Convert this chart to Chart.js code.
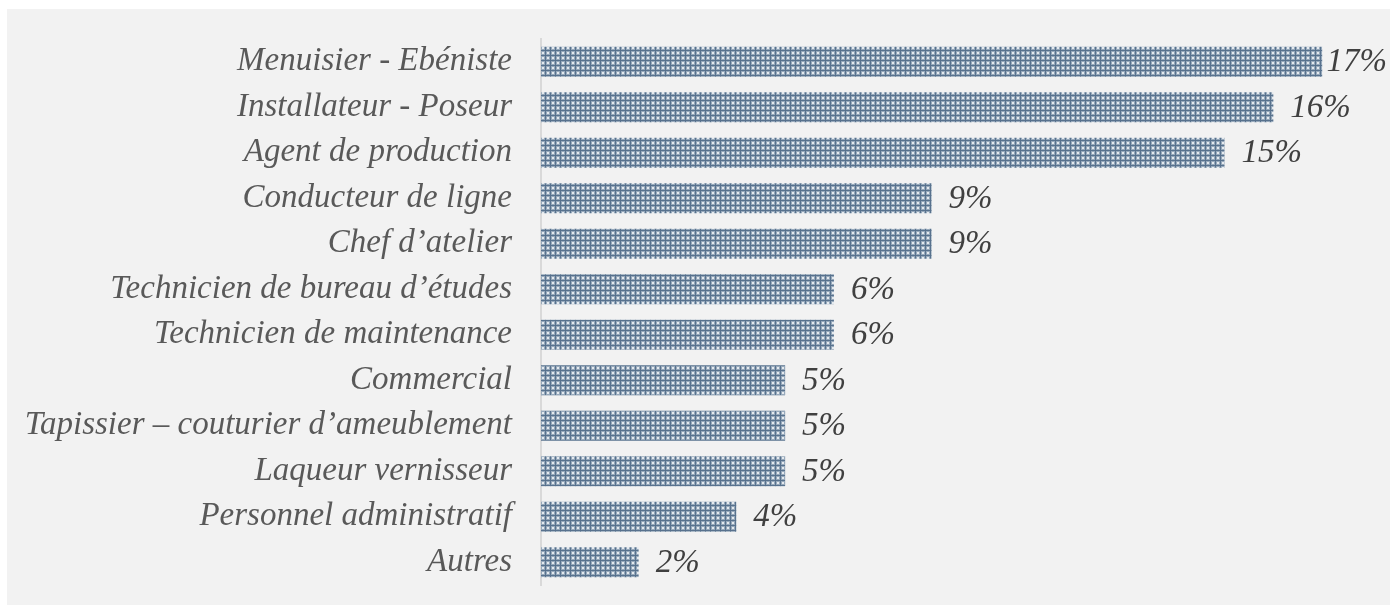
<!DOCTYPE html>
<html><head><meta charset="utf-8">
<script src="https://cdn.jsdelivr.net/npm/chart.js@4/dist/chart.umd.min.js"></script>
<style>html,body{margin:0;padding:0;background:#fff;overflow:hidden}
#wrap{position:absolute;left:0;top:0;width:1390px;height:606px}</style></head>
<body><div id="wrap"><canvas id="c" width="1390" height="606"></canvas></div>
<script>
const categories = [
  'Menuisier - Ebéniste',
  'Installateur - Poseur',
  'Agent de production',
  'Conducteur de ligne',
  'Chef d\u2019atelier',
  'Technicien de bureau d\u2019études',
  'Technicien de maintenance',
  'Commercial',
  'Tapissier \u2013 couturier d\u2019ameublement',
  'Laqueur vernisseur',
  'Personnel administratif',
  'Autres'
];
const counts = [16, 15, 14, 8, 8, 6, 6, 5, 5, 5, 4, 2];
const valueLabels = ['17%', '16%', '15%', '9%', '9%', '6%', '6%', '5%', '5%', '5%', '4%', '2%'];
const axisMax = 17;

function makePattern() {
  const t = document.createElement('canvas');
  t.width = 5; t.height = 5;
  const g = t.getContext('2d');
  g.fillStyle = '#58728e'; g.fillRect(0, 0, 5, 5);
  g.fillStyle = '#97a9bb'; g.fillRect(1, 1, 4, 4);
  g.fillStyle = '#e4e9ee'; g.fillRect(2, 2, 2, 2);
  return document.getElementById('c').getContext('2d').createPattern(t, 'repeat');
}

const bgPlugin = {
  id: 'bg',
  beforeDraw(chart) {
    const ctx = chart.ctx;
    ctx.save();
    ctx.fillStyle = '#f2f2f2';
    ctx.fillRect(7, 9, chart.width - 7, chart.height - 10);
    ctx.restore();
  }
};

const valuePlugin = {
  id: 'values',
  afterDatasetsDraw(chart) {
    const ctx = chart.ctx;
    const meta = chart.getDatasetMeta(0);
    ctx.save();
    ctx.font = 'italic 33px "Liberation Serif"';
    ctx.fillStyle = '#404040';
    ctx.textAlign = 'left';
    ctx.textBaseline = 'middle';
    meta.data.forEach((bar, i) => {
      const w = ctx.measureText(valueLabels[i]).width;
      const x = Math.min(bar.x + 17, chart.width - 3 - w);
      ctx.fillText(valueLabels[i], x, bar.y + 1);
    });
    ctx.restore();
  }
};

new Chart(document.getElementById('c'), {
  type: 'bar',
  data: {
    labels: categories,
    datasets: [{
      data: counts,
      backgroundColor: makePattern(),
      borderWidth: 0,
      barPercentage: 0.66,
      categoryPercentage: 1
    }]
  },
  options: {
    indexAxis: 'y',
    responsive: false,
    animation: false,
    devicePixelRatio: 1,
    layout: { padding: { top: 39, bottom: 21, right: 19, left: 0 } },
    plugins: { legend: { display: false }, tooltip: { enabled: false } },
    scales: {
      x: { display: false, min: 0, max: axisMax },
      y: {
        grid: { display: false, drawTicks: false },
        border: { display: true, color: '#d9d9d9', width: 2 },
        ticks: {
          padding: 29,
          color: '#595959',
          font: { family: 'Liberation Serif', style: 'italic', size: 33 }
        },
        afterFit(s) { s.width = 541; s.paddingTop = 0; s.paddingBottom = 0; }
      }
    }
  },
  plugins: [bgPlugin, valuePlugin]
});
</script></body></html>
